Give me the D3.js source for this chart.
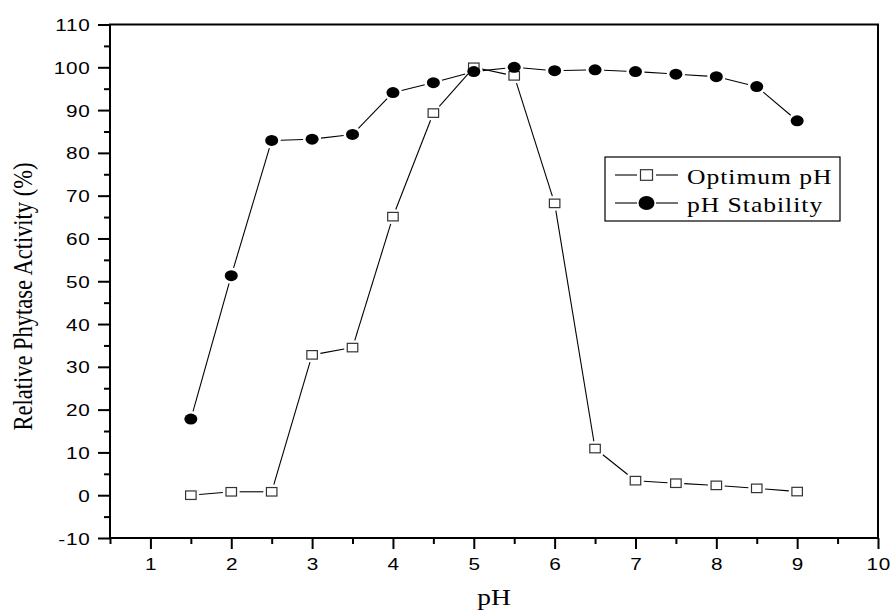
<!DOCTYPE html>
<html>
<head>
<meta charset="utf-8">
<script src="https://cdn.jsdelivr.net/npm/d3@7"></script>
<style>
  html, body { margin: 0; padding: 0; background: #fff; }
  svg { display: block; }
</style>
</head>
<body>
<svg id="chart" width="891" height="612"></svg>
<script>
// pH values at which activity was measured
const pH = [1.5, 2, 2.5, 3, 3.5, 4, 4.5, 5, 5.5, 6, 6.5, 7, 7.5, 8, 8.5, 9];
// Relative activity (%) when assayed at each pH
const optimumPH = [0, 0.8, 0.8, 32.8, 34.5, 65.1, 89.3, 100, 98.0, 68.2, 10.9, 3.4, 2.8, 2.3, 1.6, 0.85];
// Residual activity (%) after incubation at each pH
const phStability = [17.8, 51.3, 82.9, 83.2, 84.3, 94.1, 96.4, 99.0, 100, 99.2, 99.4, 99.0, 98.4, 97.8, 95.5, 87.5];

const yMajorTicks = d3.range(-10, 111, 10);
const yMinorTicks = d3.range(-5, 106, 10);
const xMajorTicks = d3.range(1, 11, 1);
const xMinorTicks = d3.range(0.5, 10, 1);
const seriesNames = ["Optimum pH", "pH Stability"];

const svg = d3.select("#chart");
const plot = { left: 110, right: 878, top: 24.5, bottom: 538 };

const x = d3.scaleLinear().domain([0.5, 10]).range([plot.left, plot.right]);
const y = d3.scaleLinear().domain([-10, 110]).range([plot.bottom, plot.top]);

const sans = "'Liberation Sans', Arial, sans-serif";
const serif = "'Liberation Serif', 'Times New Roman', serif";
// glyphs are drawn slightly wide
const stretch = 1.22;
// plain hyphen for negative labels
const plainNumber = d => String(d);

// Frame
svg.append("rect")
  .attr("x", plot.left).attr("y", plot.top)
  .attr("width", plot.right - plot.left).attr("height", plot.bottom - plot.top)
  .attr("fill", "none").attr("stroke", "#000").attr("stroke-width", 2);

// Y axis: major ticks with labels, minor ticks between
const yMajor = svg.append("g").attr("transform", `translate(${plot.left},0)`)
  .call(d3.axisLeft(y).tickValues(yMajorTicks).tickSize(12).tickFormat(plainNumber));
const yMinor = svg.append("g").attr("transform", `translate(${plot.left},0)`)
  .call(d3.axisLeft(y).tickValues(yMinorTicks).tickSize(6).tickFormat(""));

// X axis
const xMajor = svg.append("g").attr("transform", `translate(0,${plot.bottom})`)
  .call(d3.axisBottom(x).tickValues(xMajorTicks).tickSize(11).tickFormat(plainNumber));
const xMinor = svg.append("g").attr("transform", `translate(0,${plot.bottom})`)
  .call(d3.axisBottom(x).tickValues(xMinorTicks).tickSize(6).tickFormat(""));

[yMajor, yMinor, xMajor, xMinor].forEach(g => {
  g.select(".domain").remove();
  g.selectAll(".tick line").attr("stroke", "#000").attr("stroke-width", 2);
  g.selectAll(".tick text")
    .attr("fill", "#000")
    .style("font-family", sans)
    .style("font-size", "17px")
    .style("letter-spacing", "0.6px");
});
yMajor.selectAll(".tick text")
  .attr("x", 0).attr("dy", "0.36em")
  .attr("transform", `translate(-19.5,0) scale(${stretch},1)`);
xMajor.selectAll(".tick text")
  .attr("y", 0).attr("dy", 0)
  .attr("transform", `translate(0.3,32) scale(${stretch},1)`);

// Axis titles
svg.append("text")
  .attr("transform", `translate(32,296.5) scale(${stretch},1) rotate(-90)`)
  .attr("text-anchor", "middle")
  .style("font-family", serif).style("font-size", "22.5px")
  .text("Relative Phytase Activity (%)");

svg.append("text")
  .attr("transform", `translate(${(plot.left + plot.right) / 2},605) scale(${stretch},1)`)
  .attr("text-anchor", "middle")
  .style("font-family", serif).style("font-size", "22.5px")
  .text("pH");

// Marker geometry
const circleRx = 6.5, circleRy = 5.5;
const squareW = 10.5, squareH = 8.5;
const lineGap = 2.5;

function reach(kind, ux, uy) {
  if (kind === "circle") {
    return 1 / Math.sqrt((ux / circleRx) ** 2 + (uy / circleRy) ** 2);
  }
  const hw = squareW / 2 + 0.6, hh = squareH / 2 + 0.6;
  const a = Math.abs(ux) > 1e-9 ? hw / Math.abs(ux) : Infinity;
  const b = Math.abs(uy) > 1e-9 ? hh / Math.abs(uy) : Infinity;
  return Math.min(a, b);
}

// Connecting segments stop short of each marker
function drawSeries(values, kind) {
  const pts = pH.map((p, i) => [x(p), y(values[i])]);
  const segs = [];
  for (let i = 0; i < pts.length - 1; i++) {
    const [x0, y0] = pts[i], [x1, y1] = pts[i + 1];
    const L = Math.hypot(x1 - x0, y1 - y0);
    const ux = (x1 - x0) / L, uy = (y1 - y0) / L;
    const t = reach(kind, ux, uy) + lineGap;
    if (L > 2 * t) {
      segs.push([[x0 + ux * t, y0 + uy * t], [x1 - ux * t, y1 - uy * t]]);
    }
  }
  const g = svg.append("g");
  g.selectAll("line").data(segs).join("line")
    .attr("x1", d => d[0][0]).attr("y1", d => d[0][1])
    .attr("x2", d => d[1][0]).attr("y2", d => d[1][1])
    .attr("stroke", "#000").attr("stroke-width", 1.1);

  if (kind === "circle") {
    g.selectAll("ellipse").data(pts).join("ellipse")
      .attr("cx", d => d[0]).attr("cy", d => d[1])
      .attr("rx", circleRx).attr("ry", circleRy)
      .attr("fill", "#000");
  } else {
    g.selectAll("rect").data(pts).join("rect")
      .attr("x", d => d[0] - squareW / 2).attr("y", d => d[1] - squareH / 2)
      .attr("width", squareW).attr("height", squareH)
      .attr("fill", "#fff").attr("stroke", "#333").attr("stroke-width", 1.2);
  }
}

drawSeries(optimumPH, "square");
drawSeries(phStability, "circle");

// Legend
const legend = svg.append("g");
legend.append("rect")
  .attr("x", 605).attr("y", 157).attr("width", 235).attr("height", 64)
  .attr("fill", "#fff").attr("stroke", "#000").attr("stroke-width", 1.2);

const rows = [
  { name: seriesNames[0], kind: "square", cy: 175 },
  { name: seriesNames[1], kind: "circle", cy: 203 }
];
rows.forEach(r => {
  const cx = 646.5;
  legend.append("line").attr("x1", 615).attr("x2", 637).attr("y1", r.cy).attr("y2", r.cy)
    .attr("stroke", "#000").attr("stroke-width", 1.1);
  legend.append("line").attr("x1", 656).attr("x2", 678).attr("y1", r.cy).attr("y2", r.cy)
    .attr("stroke", "#000").attr("stroke-width", 1.1);
  if (r.kind === "square") {
    legend.append("rect").attr("x", cx - 6).attr("y", r.cy - 5.3)
      .attr("width", 12).attr("height", 10.6)
      .attr("fill", "#fff").attr("stroke", "#333").attr("stroke-width", 1.2);
  } else {
    legend.append("ellipse").attr("cx", cx).attr("cy", r.cy)
      .attr("rx", 8).attr("ry", 7).attr("fill", "#000");
  }
  legend.append("text")
    .attr("transform", `translate(687,${r.cy + 8.5}) scale(${stretch},1)`)
    .style("font-family", serif).style("font-size", "21px")
    .style("letter-spacing", "0.8px")
    .text(r.name);
});
</script>
</body>
</html>
